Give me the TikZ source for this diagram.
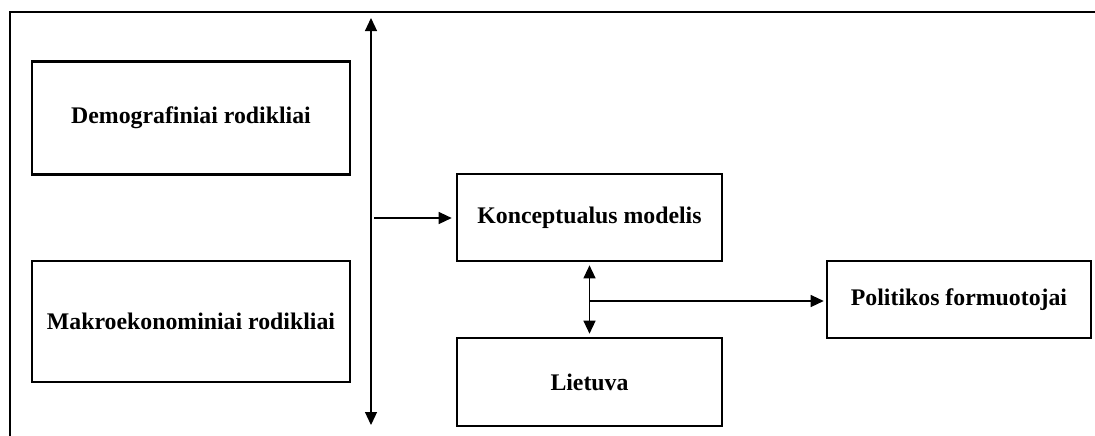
\documentclass[tikz,border=0pt]{standalone}
\usepackage{fontspec}
\setmainfont{Liberation Serif}
\usetikzlibrary{arrows.meta}
\begin{document}
\begin{tikzpicture}[x=0.5pt,y=-0.5pt,
  box/.style={draw,line width=1.3pt,rectangle,inner sep=0pt,
    font=\fontsize{11.9}{13}\selectfont\bfseries},
  conn/.style={line width=0.6pt,-{Triangle[length=6.5pt,width=6pt]}},
  dconn/.style={line width=0.6pt,{Triangle[length=6.5pt,width=6pt]}-{Triangle[length=6.5pt,width=6pt]}},
  frame/.style={line width=1pt}]
\useasboundingbox (0,0) rectangle (1095,435);
\draw[frame] (10,436) -- (10,12) -- (1096,12);
\node[box,minimum width=159pt,minimum height=56.5pt] (demo) at (191,118) {Demografiniai rodikliai};
\node[box,minimum width=159pt,minimum height=60.5pt] (makro) at (191,321.5) {Makroekonominiai rodikliai};
\node[box,minimum width=132.5pt,minimum height=43.5pt] (konc) at (589.5,217.5) {Konceptualus modelis};
\node[box,minimum width=132.5pt,minimum height=44pt] (liet) at (589.5,382) {Lietuva};
\node[box,minimum width=132pt,minimum height=38.5pt] (pol) at (959,299.5) {Politikos formuotojai};
\coordinate (vt) at (371,18);
\coordinate (vb) at (371,425);
\draw[dconn] (vt) -- (vb);
\coordinate (h0) at (374,218);
\draw[conn] (h0) -- ([xshift=-2pt]h0 -| konc.west);
\draw[dconn,shorten <=1.5pt,shorten >=1.5pt] (konc.south) -- (liet.north);
\coordinate (j) at (589.5,301);
\draw[conn] (j) -- ([xshift=-1pt]j -| pol.west);
\end{tikzpicture}
\end{document}
